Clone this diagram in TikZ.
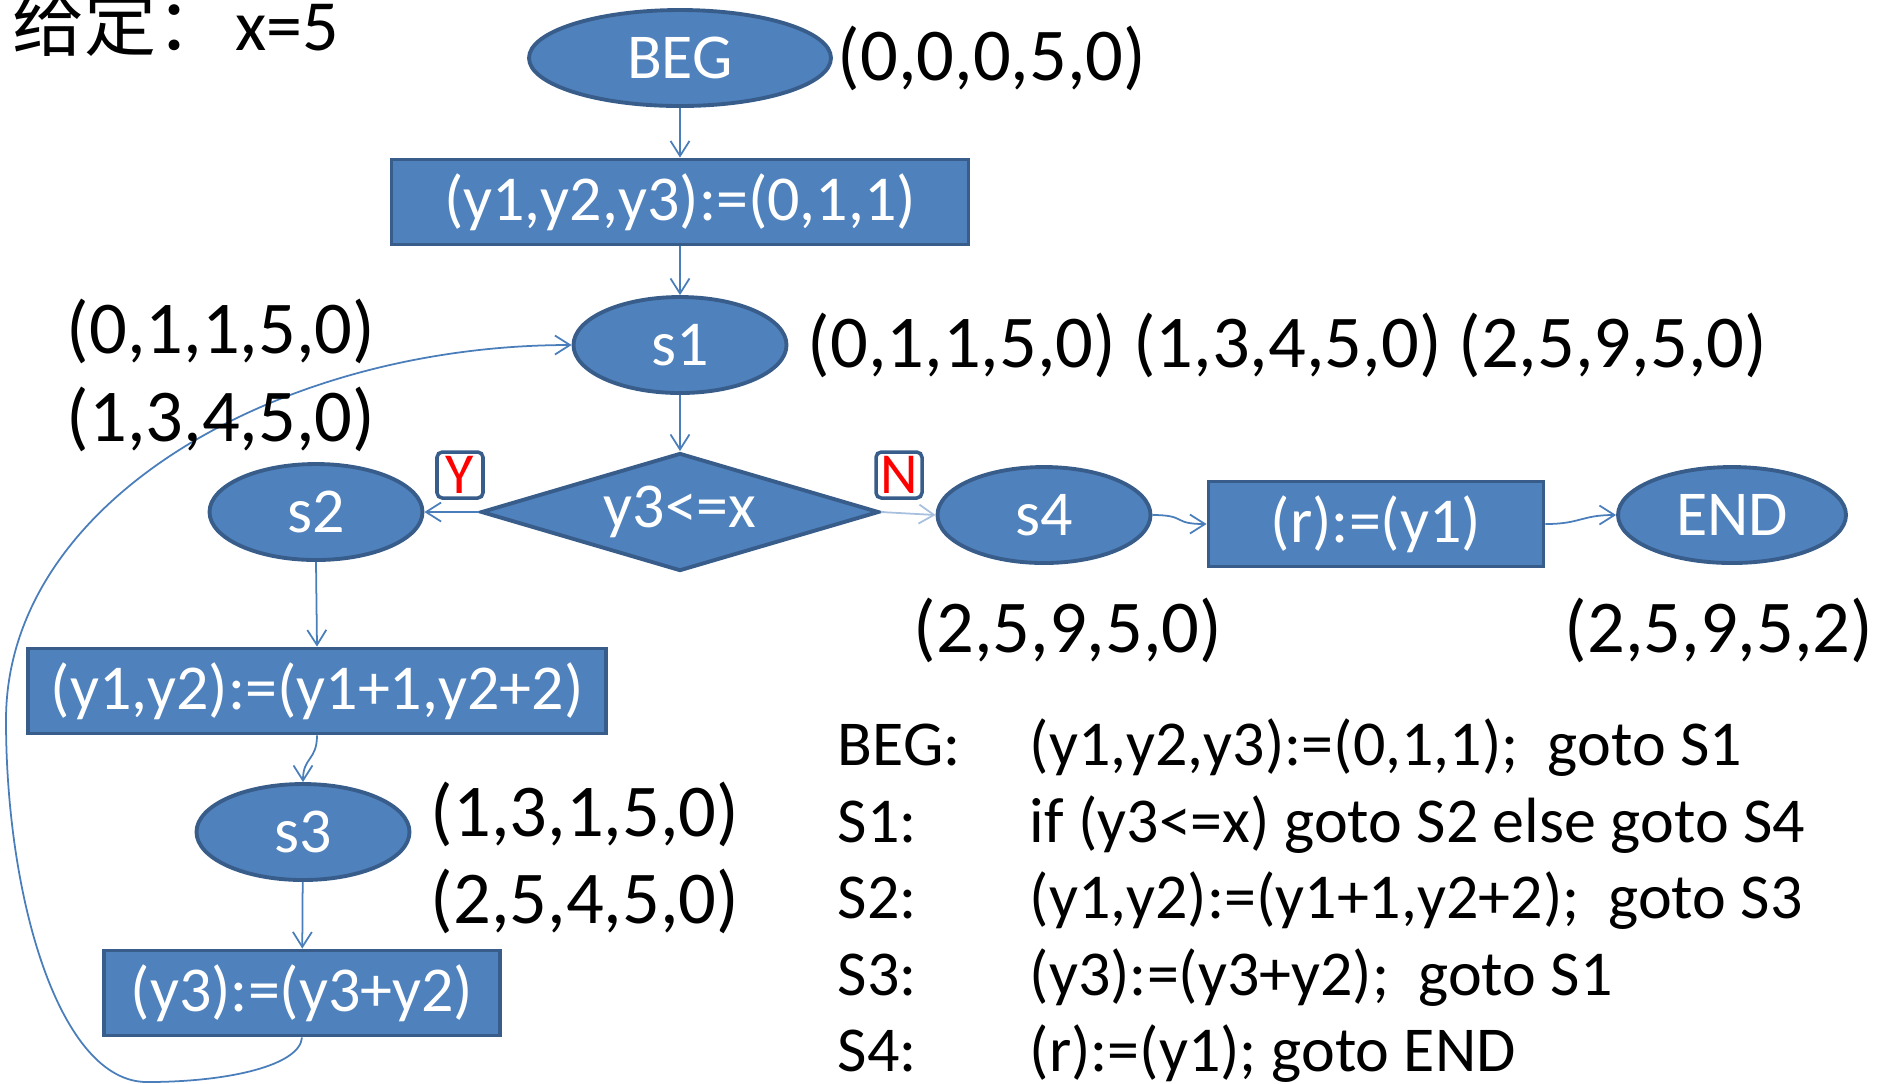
\documentclass[tikz,border=0pt]{standalone}
\usepackage{fontspec}
\setmainfont{Carlito}
\newfontfamily\cjk{Noto Sans CJK SC}
\usetikzlibrary{positioning,arrows.meta,shapes.geometric}
\definecolor{boxblue}{HTML}{4F81BD}
\definecolor{rimblue}{HTML}{385D8A}
\definecolor{lineblue}{HTML}{4A7EBB}
\definecolor{paleblue}{HTML}{A7C0DE}

\begin{document}
\begin{tikzpicture}[x=0.1mm,y=-0.1mm,
  big/.style={font=\fontsize{18.2pt}{22pt}\selectfont},
  tup/.style={font=\fontsize{21.2pt}{25pt}\selectfont,anchor=base west,inner sep=0pt},
  oval/.style={ellipse,draw=rimblue,line width=1.1pt,fill=boxblue,text=white,inner sep=0pt,minimum height=9.6mm,minimum width=21.3mm,big},
  blk/.style={rectangle,draw=rimblue,line width=1.1pt,fill=boxblue,text=white,inner sep=0pt,minimum height=8.5mm,big},
  tag/.style={rounded corners=1.5pt,draw=rimblue,line width=1pt,fill=white,text=red,inner sep=0pt,minimum size=4.6mm,font=\fontsize{16.5pt}{18pt}\selectfont},
  code/.style={big,anchor=base west,inner sep=0pt},
  link/.style={draw=lineblue,line width=0.5pt,-{Straight Barb[length=1.5mm,width=1.9mm]}}]
  \useasboundingbox (0,0) rectangle (1883,1083);

  \node[anchor=base west,inner sep=0pt,font=\fontsize{20.5pt}{24pt}\selectfont] (given) at (12,50) {{\cjk 给定：}\hspace{1.8pt}x=5};

  % flow chart
  \node[oval,minimum width=30.2mm] (beg) at (680,58) {BEG};
  \node[blk,minimum width=57.7mm] (init) at (680,202) {(y1,y2,y3):=(0,1,1)};
  \node[oval] (s1) at (680,345) {s1};
  \node[diamond,draw=rimblue,line width=1.1pt,fill=boxblue,text=white,inner sep=0pt,aspect=3.4,minimum width=39.8mm,minimum height=11.8mm,big] (test) at (680,512) {y3<=x};
  \node[oval] (s2) at (316,512) {s2};
  \node[oval] (s4) at (1044,515) {s4};
  \node[blk,minimum width=33.5mm] (ret) at (1376,524) {(r):=(y1)};
  \node[oval,minimum width=22.8mm] (end) at (1732,515) {END};
  \node[blk,minimum width=57.8mm] (inc) at (317,691) {(y1,y2):=(y1+1,y2+2)};
  \node[oval] (s3) at (303,832) {s3};
  \node[blk,minimum width=39.6mm] (add) at (302,993) {(y3):=(y3+y2)};

  \node[tag] (yes) at (460,475) {Y};
  \node[tag] (no) at (899,475) {N};

  \draw[link] (beg) -- (init);
  \draw[link] (init) -- (s1);
  \draw[link] (s1) -- (test);
  \draw[link] (test.west) -- (s2.east);
  \draw[link,draw=paleblue] (test.east) -- (s4.west);
  \draw[link] (s4.east) .. controls +(35,0) and +(-35,0) .. (ret.west);
  \draw[link] (ret.east) .. controls +(35,0) and +(-35,0) .. (end.west);
  \draw[link] (s2.south) -- (inc.north);
  \draw[link] (inc.south) .. controls +(0,25) and +(0,-25) .. (s3.north);
  \draw[link] (s3) -- (add);
  \draw[link] (add.south) .. controls (300,1065) and (230,1082) .. (147,1082)
    .. controls (60,1082) and (6,900) .. (6,720)
    .. controls (6,500) and (280,345) .. (s1.west);

  % states
  \node[tup] (t0) at (837,80) {(0,0,0,5,0)};
  \node[tup] (t1) at (807,367) {(0,1,1,5,0) (1,3,4,5,0) (2,5,9,5,0)};
  \node[tup] (t2) at (66,353) {(0,1,1,5,0)};
  \node[tup] (t3) at (66,441) {(1,3,4,5,0)};
  \node[tup] (t4) at (913,652) {(2,5,9,5,0)};
  \node[tup] (t5) at (1564,652) {(2,5,9,5,2)};
  \node[tup] (t6) at (430,836) {(1,3,1,5,0)};
  \node[tup] (t7) at (430,923) {(2,5,4,5,0)};

  % program
  \node[code] (l0) at (837,765) {BEG:};
  \node[code] (l1) at (837,842) {S1:};
  \node[code] (l2) at (837,918) {S2:};
  \node[code] (l3) at (837,995) {S3:};
  \node[code] (l4) at (837,1071) {S4:};
  \node[code] (c0) at (1029,765) {(y1,y2,y3):=(0,1,1);\ \ goto S1};
  \node[code] (c1) at (1029,842) {if (y3<=x) goto S2 else goto S4};
  \node[code] (c2) at (1029,918) {(y1,y2):=(y1+1,y2+2);\ \ goto S3};
  \node[code] (c3) at (1029,995) {(y3):=(y3+y2);\ \ goto S1};
  \node[code] (c4) at (1029,1071) {(r):=(y1); goto END};
\end{tikzpicture}
\end{document}
